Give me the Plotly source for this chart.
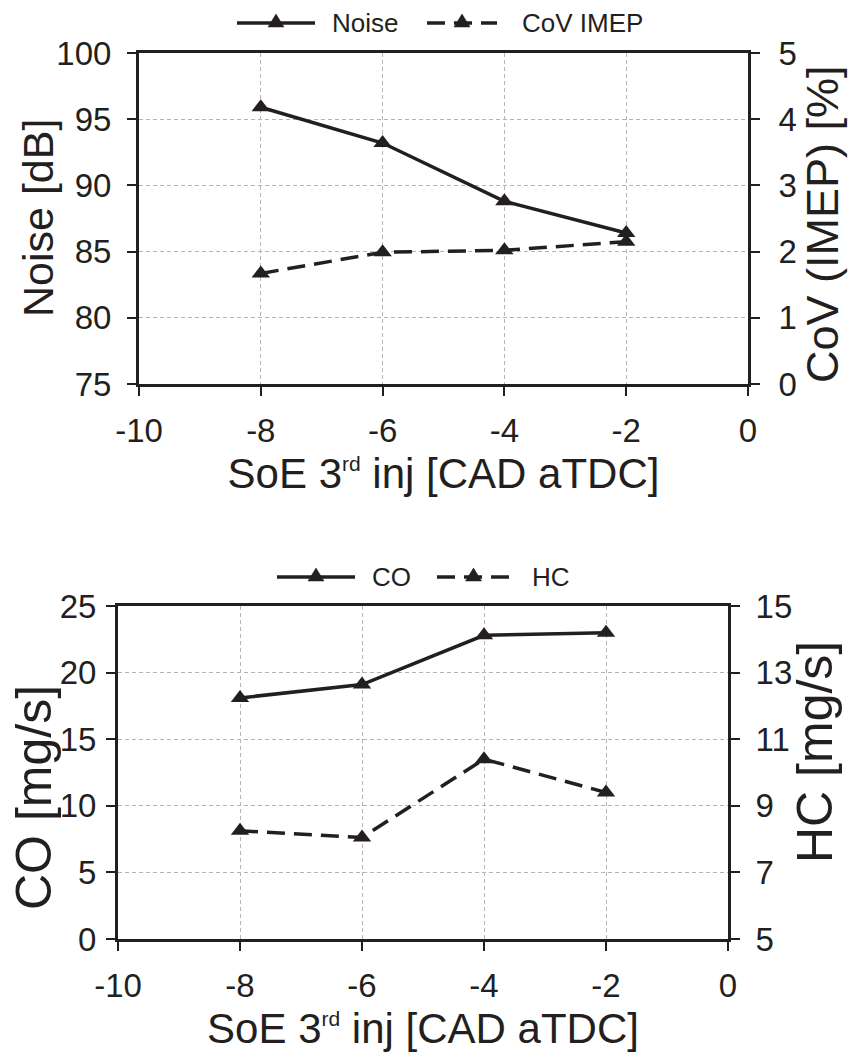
import plotly.graph_objects as go

# Start of the 3rd injection [CAD aTDC]
soe = [-8, -6, -4, -2]

# x-axis ticks, written with a plain hyphen
x_ticks = [-10, -8, -6, -4, -2, 0]
x_tick_text = ["-10", "-8", "-6", "-4", "-2", "0"]

# Combustion noise and cycle-to-cycle variation
noise_db = [95.9, 93.2, 88.8, 86.4]
cov_imep = [1.67, 1.99, 2.02, 2.15]

# Emissions
co_mgs = [18.1, 19.1, 22.8, 23.0]
hc_mgs = [8.25, 8.05, 10.4, 9.4]

W, H = 849, 1056
INK = "#231f20"
FONT = "Liberation Sans, Arial, sans-serif"
GRID = "#b4b4b4"
DASH = "18px,9px"

fig = go.Figure()

mk = dict(symbol="triangle-up", size=16, color=INK)
solid = dict(color=INK, width=3.5)
dashed = dict(color=INK, width=3.5, dash=DASH)

series = [
    ("Noise", noise_db, solid, "x", "y"),
    ("CoV IMEP", cov_imep, dashed, "x", "y2"),
    ("CO", co_mgs, solid, "x2", "y3"),
    ("HC", hc_mgs, dashed, "x2", "y4"),
]
for name, vals, ln, xa, ya in series:
    fig.add_trace(go.Scatter(x=soe, y=vals, name=name, mode="lines+markers",
                             line=ln, marker=mk, xaxis=xa, yaxis=ya,
                             showlegend=False))


def px_x(a, b):
    return [a / W, b / W]


def px_y(top, bottom):
    return [1 - bottom / H, 1 - top / H]


tick_font = dict(family=FONT, size=33, color=INK)
xtitle = dict(text='SoE 3<sup><span style="font-size:21px">rd</span></sup> inj [CAD aTDC]',
              font=dict(family=FONT, size=42, color=INK), standoff=12)

common_x = dict(range=[-10, 0], tickmode="array", tickvals=x_ticks,
                ticktext=x_tick_text, showline=True, linewidth=3,
                linecolor=INK, mirror=True, ticks="outside", ticklen=9, tickwidth=2,
                tickcolor=INK, showgrid=True, gridcolor=GRID, gridwidth=1,
                griddash="4px,3px", tickfont=tick_font, zeroline=False,
                ticklabelstandoff=6, automargin=False, title=xtitle)


def yax(rng, dtick, side, gap, overlay=None, anchor="x", domain=None):
    d = dict(range=rng, dtick=dtick, tick0=rng[0], showline=True, linewidth=3,
             linecolor=INK, ticks="outside", ticklen=9, tickwidth=2, tickcolor=INK,
             tickfont=tick_font, zeroline=False, automargin=False, side=side,
             anchor=anchor, ticklabelstandoff=gap)
    if overlay:
        d.update(overlaying=overlay, showgrid=False)
    else:
        d.update(domain=domain, showgrid=True, gridcolor=GRID, gridwidth=1,
                 griddash="4px,3px")
    return d


top_dom = px_y(53, 384)
bot_dom = px_y(606, 939)

shapes, notes = [], []


# Vertical axis titles, reading bottom to top
def y_title(text, xc, yc, size):
    notes.append(dict(text=text, x=xc / W, y=1 - yc / H, xref="paper", yref="paper",
                      xanchor="center", yanchor="middle", textangle=-90,
                      showarrow=False, font=dict(family=FONT, size=size, color=INK)))


y_title("Noise [dB]", 38, 218, 43)
y_title("CoV (IMEP) [%]", 822, 224, 45)
y_title("CO [mg/s]", 34, 798, 50)
y_title("HC [mg/s]", 815, 752, 50)


# Legend keys: a long line sample with a triangle in its middle, then the label
def legend_key(x0, x1, y, dash, label, tx):
    yp = 1 - y / H
    shapes.append(dict(type="line", xref="paper", yref="paper",
                       x0=x0 / W, x1=x1 / W, y0=yp, y1=yp,
                       line=dict(color=INK, width=3.5, dash=dash)))
    xc = (x0 + x1) / 2
    shapes.append(dict(type="path", xref="paper", yref="paper",
                       xsizemode="pixel", ysizemode="pixel",
                       xanchor=xc / W, yanchor=yp,
                       path="M -8 -4 L 8 -4 L 0 9 Z",
                       fillcolor=INK, line=dict(color=INK, width=0.5)))
    notes.append(dict(text=label, x=tx / W, y=yp, xref="paper", yref="paper",
                      xanchor="left", yanchor="middle", showarrow=False,
                      font=dict(family=FONT, size=26, color=INK)))


legend_key(237, 315, 23, "solid", "Noise", 330)
legend_key(427, 497, 23, DASH, "CoV IMEP", 520)
legend_key(277, 355, 577, "solid", "CO", 370)
legend_key(437, 510, 577, DASH, "HC", 530)

fig.update_layout(
    width=W, height=H,
    margin=dict(l=0, r=0, t=0, b=0),
    paper_bgcolor="white", plot_bgcolor="white",
    font=dict(family=FONT, color=INK),
    showlegend=False,
    xaxis=dict(common_x, domain=px_x(139, 748), anchor="y"),
    yaxis=yax([75, 100], 5, "left", 9, anchor="x", domain=top_dom),
    yaxis2=yax([0, 5], 1, "right", 12, overlay="y", anchor="x"),
    xaxis2=dict(common_x, domain=px_x(118, 728), anchor="y3"),
    yaxis3=yax([0, 25], 5, "left", 3, anchor="x2", domain=bot_dom),
    yaxis4=yax([5, 15], 2, "right", 9, overlay="y3", anchor="x2"),
    shapes=shapes,
    annotations=notes,
)

fig.write_html("out.html")
